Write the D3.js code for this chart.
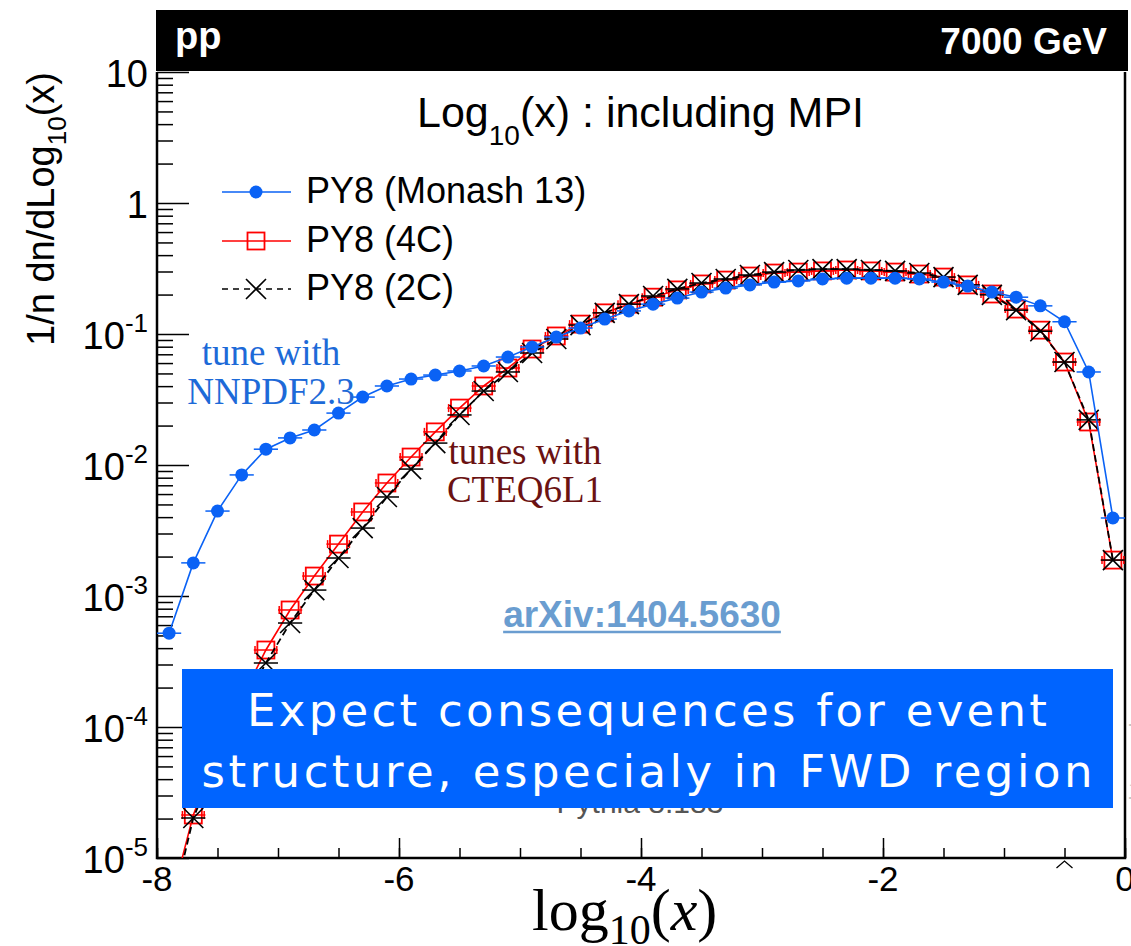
<!DOCTYPE html>
<html>
<head>
<meta charset="utf-8">
<script src="https://cdn.jsdelivr.net/npm/d3@7"></script>
<style>
  body { margin: 0; background: #fff; }
  svg { display: block; }
</style>
</head>
<body>
<script>
// bin centers of log10(x), bins of width 0.2
const binCenters = [-7.9, -7.7, -7.5, -7.3, -7.1, -6.9, -6.7, -6.5, -6.3, -6.1,
  -5.9, -5.7, -5.5, -5.3, -5.1, -4.9, -4.7, -4.5, -4.3, -4.1,
  -3.9, -3.7, -3.5, -3.3, -3.1, -2.9, -2.7, -2.5, -2.3, -2.1,
  -1.9, -1.7, -1.5, -1.3, -1.1, -0.9, -0.7, -0.5, -0.3, -0.1];

// PY8 (Monash 13)
const monash = [5.2e-4, 1.79e-3, 4.45e-3, 8.4e-3, 1.32e-2, 1.61e-2, 1.85e-2, 2.49e-2, 3.30e-2, 4.01e-2,
  4.53e-2, 4.86e-2, 5.22e-2, 5.70e-2, 6.67e-2, 7.96e-2, 9.48e-2, 0.111, 0.130, 0.150,
  0.169, 0.188, 0.209, 0.224, 0.237, 0.249, 0.254, 0.263, 0.267, 0.267,
  0.267, 0.263, 0.249, 0.232, 0.209, 0.191, 0.164, 0.124, 0.0513, 3.94e-3];

// PY8 (4C)
const tune4C = [4.1e-6, 2.13e-5, 6.3e-5, 1.66e-4, 3.87e-4, 7.82e-4, 1.42e-3, 2.49e-3, 4.38e-3, 7.29e-3,
  1.15e-2, 1.79e-2, 2.72e-2, 4.01e-2, 5.50e-2, 7.68e-2, 9.66e-2, 0.119, 0.145, 0.169,
  0.191, 0.217, 0.241, 0.258, 0.277, 0.292, 0.297, 0.303, 0.308, 0.303,
  0.297, 0.287, 0.272, 0.237, 0.202, 0.155, 0.107, 0.0611, 0.0213, 1.88e-3];

// PY8 (2C)
const tune2C = [3.4e-6, 2.02e-5, 5.6e-5, 1.40e-4, 3.08e-4, 6.22e-4, 1.11e-3, 1.95e-3, 3.30e-3, 5.70e-3,
  9.31e-3, 1.47e-2, 2.41e-2, 3.67e-2, 5.13e-2, 7.16e-2, 9.16e-2, 0.117, 0.145, 0.169,
  0.195, 0.221, 0.245, 0.263, 0.282, 0.297, 0.308, 0.313, 0.313, 0.308,
  0.303, 0.292, 0.272, 0.237, 0.199, 0.152, 0.105, 0.0611, 0.0221, 1.88e-3];

const xTickLabels = [-8, -6, -4, -2, 0];
const yTickExps = [-5, -4, -3, -2, -1, 0, 1];
const legendNames = ["PY8 (Monash 13)", "PY8 (4C)", "PY8 (2C)"];

const W = 1131, H = 946;
const pLeft = 157, pRight = 1125, pTop = 72, pBottom = 858;
const sans = "'Liberation Sans', Arial, Helvetica, sans-serif";
const serif = "'Liberation Serif', 'Times New Roman', serif";
const BLUE = "#0a62f5", RED = "#ff0000";

const svg = d3.select("body").append("svg")
  .attr("width", W).attr("height", H)
  .style("font-family", sans);

const x = d3.scaleLinear().domain([-8, 0]).range([pLeft, pRight]);
const y = d3.scaleLog().domain([1e-5, 10]).range([pBottom, pTop]);

// clip for the plot area
svg.append("defs").append("clipPath").attr("id", "plotClip")
  .append("rect").attr("x", pLeft).attr("y", pTop).attr("width", pRight - pLeft).attr("height", pBottom - pTop);

// ---- axes (ticks inside the frame, ROOT style)
const xMinor = d3.range(-8, 0.01, 0.5);
svg.append("g").attr("transform", `translate(0,${pBottom})`)
  .call(d3.axisBottom(x).tickValues(xMinor).tickSizeInner(-10).tickSizeOuter(0).tickFormat(""))
  .call(g => g.select(".domain").remove())
  .selectAll("line").attr("stroke-width", 1.5);
svg.append("g").attr("transform", `translate(0,${pBottom})`)
  .call(d3.axisBottom(x).tickValues(xTickLabels).tickSizeInner(-20).tickSizeOuter(0).tickFormat(""))
  .call(g => g.select(".domain").remove())
  .selectAll("line").attr("stroke-width", 1.5);

const yMinor = [];
for (let e = -5; e < 1; e++) {
  for (let k = 2; k <= 9; k++) yMinor.push(k * Math.pow(10, e));
}
svg.append("g").attr("transform", `translate(${pLeft},0)`)
  .call(d3.axisLeft(y).tickValues(yMinor).tickSizeInner(-16).tickSizeOuter(0).tickFormat(""))
  .call(g => g.select(".domain").remove())
  .selectAll("line").attr("stroke-width", 1.5);
svg.append("g").attr("transform", `translate(${pLeft},0)`)
  .call(d3.axisLeft(y).tickValues(yTickExps.map(e => Math.pow(10, e))).tickSizeInner(-32).tickSizeOuter(0).tickFormat(""))
  .call(g => g.select(".domain").remove())
  .selectAll("line").attr("stroke-width", 1.5);

// frame
svg.append("path")
  .attr("d", `M${pLeft},${pTop}V${pBottom}H${pRight}V${pTop}`)
  .attr("fill", "none").attr("stroke", "#000").attr("stroke-width", 2.5);

// x tick labels
svg.append("g").selectAll("text").data(xTickLabels).enter().append("text")
  .attr("x", d => x(d)).attr("y", 891)
  .attr("text-anchor", "middle").attr("font-size", 35)
  .text(d => d);

// y tick labels
const yLab = svg.append("g").selectAll("text").data(yTickExps).enter().append("text")
  .attr("x", 148).attr("y", d => y(Math.pow(10, d)) + 15)
  .attr("text-anchor", "end").attr("font-size", 38);
yLab.each(function (d) {
  const t = d3.select(this);
  if (d === 0) { t.text("1"); return; }
  t.append("tspan").text("10");
  if (d !== 1) {
    t.append("tspan").attr("font-size", 26).attr("dy", -17).text(d);
  }
});

// axis titles
const yTitle = svg.append("text")
  .attr("transform", `translate(54,${pTop}) rotate(-90)`)
  .attr("text-anchor", "end").attr("font-size", 38);
yTitle.append("tspan").text("1/n dn/dLog");
yTitle.append("tspan").attr("font-size", 26).attr("dy", 12).text("10");
yTitle.append("tspan").attr("dy", -12).text("(x)");

const xTitle = svg.append("text")
  .attr("x", 532).attr("y", 930).attr("font-size", 60).attr("font-family", serif);
xTitle.append("tspan").text("log");
xTitle.append("tspan").attr("font-size", 42).attr("dy", 14).text("10");
xTitle.append("tspan").attr("dy", -14).text("(");
xTitle.append("tspan").attr("font-style", "italic").text("x");
xTitle.append("tspan").text(")");

// chevron below the -0.5 tick
svg.append("path")
  .attr("d", `M${x(-0.5) - 8},868 L${x(-0.5)},861 L${x(-0.5) + 8},868`)
  .attr("fill", "none").attr("stroke", "#000").attr("stroke-width", 1.3);

// ---- header bar
svg.append("rect").attr("x", pLeft - 1).attr("y", 10).attr("width", 1128 - pLeft + 1).attr("height", 61)
  .attr("fill", "#000");
svg.append("text").attr("x", 175).attr("y", 49).attr("fill", "#fff")
  .attr("font-size", 38).attr("font-weight", "bold").text("pp");
svg.append("text").attr("x", 1107).attr("y", 54).attr("fill", "#fff")
  .attr("text-anchor", "end").attr("font-size", 37).attr("font-weight", "bold").text("7000 GeV");

// plot title
const title = svg.append("text").attr("x", 417).attr("y", 127).attr("font-size", 43);
title.append("tspan").text("Log");
title.append("tspan").attr("font-size", 28).attr("dy", 18).text("10");
title.append("tspan").attr("dy", -18).text("(x) : including MPI");

// ---- series
const plot = svg.append("g").attr("clip-path", "url(#plotClip)");

function pts(vals) {
  return binCenters.map((c, i) => ({ c: c, v: vals[i] }));
}

const line = d3.line().x(d => x(d.c)).y(d => y(d.v));

function drawBars(g, data, color, serifs) {
  g.selectAll(null).data(data).enter().append("line")
    .attr("x1", d => x(d.c - 0.1)).attr("x2", d => x(d.c + 0.1))
    .attr("y1", d => y(d.v)).attr("y2", d => y(d.v))
    .attr("stroke", color).attr("stroke-width", 1.5);
  if (serifs) {
    g.selectAll(null).data(data.flatMap(d => [{ c: d.c - 0.09, v: d.v }, { c: d.c + 0.09, v: d.v }])).enter().append("line")
      .attr("x1", d => x(d.c)).attr("x2", d => x(d.c))
      .attr("y1", d => y(d.v) - 4).attr("y2", d => y(d.v) + 4)
      .attr("stroke", color).attr("stroke-width", 1.5);
  }
}

function squareMarker(g, cx, cy) {
  g.append("rect").attr("x", cx - 8.5).attr("y", cy - 8.5).attr("width", 17).attr("height", 17)
    .attr("fill", "none").attr("stroke", RED).attr("stroke-width", 1.8);
}
function crossMarker(g, cx, cy) {
  g.append("path").attr("d", `M${cx - 10},${cy - 10}L${cx + 10},${cy + 10}M${cx - 10},${cy + 10}L${cx + 10},${cy - 10}`)
    .attr("stroke", "#000").attr("stroke-width", 1.6);
}
function circleMarker(g, cx, cy) {
  g.append("circle").attr("cx", cx).attr("cy", cy).attr("r", 6.5).attr("fill", BLUE);
}

// 4C
const gRed = plot.append("g");
const redData = pts(tune4C);
gRed.append("path").datum(redData).attr("d", line)
  .attr("fill", "none").attr("stroke", RED).attr("stroke-width", 1.6);
drawBars(gRed, redData, RED, true);
redData.forEach(d => squareMarker(gRed, x(d.c), y(d.v)));

// 2C
const gBlack = plot.append("g");
const blackData = pts(tune2C);
gBlack.append("path").datum(blackData).attr("d", line)
  .attr("fill", "none").attr("stroke", "#000").attr("stroke-width", 1.8).attr("stroke-dasharray", "7,4");
drawBars(gBlack, blackData, "#000", false);
blackData.forEach(d => crossMarker(gBlack, x(d.c), y(d.v)));

// Monash
const gBlue = plot.append("g");
const blueData = pts(monash);
gBlue.append("path").datum(blueData).attr("d", line)
  .attr("fill", "none").attr("stroke", BLUE).attr("stroke-width", 1.6);
drawBars(gBlue, blueData, BLUE, false);
blueData.forEach(d => circleMarker(gBlue, x(d.c), y(d.v)));

// ---- legend
const legY = [192, 241, 289];
const leg = svg.append("g");
leg.append("line").attr("x1", 222).attr("x2", 291).attr("y1", legY[0]).attr("y2", legY[0])
  .attr("stroke", BLUE).attr("stroke-width", 1.6);
circleMarker(leg, 256, legY[0]);
leg.append("line").attr("x1", 222).attr("x2", 291).attr("y1", legY[1]).attr("y2", legY[1])
  .attr("stroke", RED).attr("stroke-width", 1.6);
squareMarker(leg, 256, legY[1]);
leg.append("line").attr("x1", 222).attr("x2", 291).attr("y1", legY[2]).attr("y2", legY[2])
  .attr("stroke", "#000").attr("stroke-width", 1.6).attr("stroke-dasharray", "6,5");
crossMarker(leg, 256, legY[2]);
leg.selectAll("text").data(legendNames).enter().append("text")
  .attr("x", 306).attr("y", (d, i) => legY[i] + 11)
  .attr("font-size", 36).text(d => d);

// ---- annotations
const ann1 = svg.append("text").attr("font-family", serif).attr("font-size", 37)
  .attr("fill", "#1d6ad8").attr("text-anchor", "middle");
ann1.append("tspan").attr("x", 271).attr("y", 365).text("tune with");
ann1.append("tspan").attr("x", 271).attr("y", 404).text("NNPDF2.3");

const ann2 = svg.append("text").attr("font-family", serif).attr("font-size", 37)
  .attr("fill", "#6b1212").attr("text-anchor", "middle");
ann2.append("tspan").attr("x", 525).attr("y", 464).text("tunes with");
ann2.append("tspan").attr("x", 525).attr("y", 502).text("CTEQ6L1");

// arXiv reference, underlined
const arx = svg.append("text").attr("x", 642).attr("y", 627).attr("text-anchor", "middle")
  .attr("font-size", 37).attr("font-weight", "bold").attr("fill", "#6a9dd0")
  .text("arXiv:1404.5630");
const arxW = arx.node().getComputedTextLength();
svg.append("line").attr("x1", 642 - arxW / 2).attr("x2", 642 + arxW / 2).attr("y1", 632).attr("y2", 632)
  .attr("stroke", "#6a9dd0").attr("stroke-width", 2.5);

// generator tag (mostly hidden behind the box)
svg.append("text").attr("x", 640).attr("y", 813).attr("text-anchor", "middle")
  .attr("font-size", 30).attr("fill", "#555").text("Pythia 8.183");

// faint vertical tag at the right edge
svg.append("text").attr("transform", "translate(1141,830) rotate(-90)")
  .attr("font-size", 16).attr("fill", "#bbb").text("mcplots.cern.ch");

// ---- overlay box
svg.append("rect").attr("x", 182).attr("y", 669).attr("width", 1113 - 182).attr("height", 808 - 669)
  .attr("fill", "#0064ff");
const boxLines = ["Expect consequences for event", "structure, especialy in FWD region"];
const boxWidths = [800, 891];
svg.append("g").selectAll("text").data(boxLines).enter().append("text")
  .attr("x", 647).attr("y", (d, i) => 726 + i * 61)
  .attr("text-anchor", "middle").attr("font-family", "'DejaVu Sans', Verdana, sans-serif")
  .attr("font-size", 45).attr("fill", "#fff")
  .attr("textLength", (d, i) => boxWidths[i]).attr("lengthAdjust", "spacing")
  .text(d => d);
</script>
</body>
</html>
